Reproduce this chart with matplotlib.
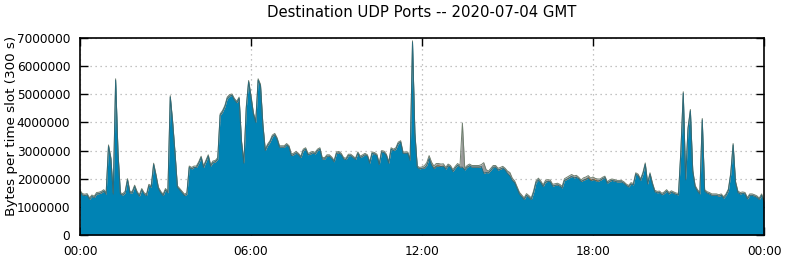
import numpy as np
import matplotlib
matplotlib.use("Agg")
import matplotlib.pyplot as plt
from matplotlib.ticker import FuncFormatter

# Bytes per 5-minute slot, in millions (289 slots: 00:00 .. 24:00)
main_port = [
    1.54, 1.42, 1.40, 1.42, 1.27, 1.37, 1.33, 1.46, 1.47, 1.50, 1.56, 1.45,
    3.15, 2.70, 1.45, 5.50, 2.90, 1.45, 1.42, 1.50, 1.95, 1.50, 1.50, 1.72,
    1.50, 1.38, 1.60, 1.45, 1.40, 1.75, 1.70, 2.50, 2.10, 1.65, 1.50, 1.40,
    1.60, 1.50, 4.90, 4.00, 2.90, 1.70, 1.60, 1.50, 1.40, 1.45, 2.40, 2.35,
    2.40, 2.40, 2.55, 2.75, 2.40, 2.60, 2.80, 2.45, 2.58, 2.60, 2.70, 4.25,
    4.37, 4.55, 4.85, 4.94, 4.96, 4.80, 4.70, 4.85, 3.30, 2.55, 4.50, 5.44,
    4.90, 4.30, 4.00, 5.50, 5.30, 3.90, 3.00, 3.18, 3.30, 3.50, 3.56, 3.40,
    3.12, 3.12, 3.12, 3.20, 3.12, 2.82, 2.86, 2.92, 2.85, 2.75, 3.00, 3.05,
    2.85, 2.88, 2.92, 2.88, 3.00, 3.05, 2.70, 2.70, 2.80, 2.80, 2.72, 2.60,
    2.90, 2.92, 2.85, 2.70, 2.68, 2.82, 2.82, 2.75, 2.68, 2.90, 2.75, 2.80,
    2.85, 2.80, 2.55, 2.90, 2.88, 2.82, 2.50, 2.95, 2.93, 2.82, 2.55, 3.05,
    3.00, 3.05, 3.25, 3.30, 2.90, 2.90, 2.90, 2.65, 6.85, 3.60, 2.40, 2.35,
    2.37, 2.38, 2.47, 2.72, 2.49, 2.36, 2.45, 2.45, 2.43, 2.45, 2.34, 2.46,
    2.41, 2.26, 2.38, 2.48, 2.41, 2.41, 2.31, 2.41, 2.46, 2.41, 2.41, 2.41,
    2.41, 2.43, 2.20, 2.22, 2.21, 2.31, 2.41, 2.41, 2.31, 2.34, 2.38, 2.31,
    2.19, 2.10, 1.94, 1.86, 1.66, 1.46, 1.36, 1.26, 1.41, 1.34, 1.26, 1.51,
    1.86, 1.96, 1.86, 1.72, 1.88, 1.91, 1.89, 1.74, 1.76, 1.78, 1.74, 1.67,
    1.94, 1.98, 2.03, 2.08, 2.03, 2.05, 2.00, 1.90, 1.95, 1.98, 2.03, 1.93,
    1.97, 1.93, 1.91, 1.94, 2.00, 2.04, 1.84, 1.91, 1.94, 1.92, 1.89, 1.89,
    1.89, 1.84, 1.76, 1.71, 1.81, 1.78, 2.16, 2.11, 1.94, 2.16, 2.51, 1.81,
    2.16, 1.81, 1.54, 1.50, 1.51, 1.43, 1.48, 1.56, 1.46, 1.52, 1.48, 1.44,
    1.43, 2.96, 5.04, 1.96, 3.76, 4.41, 2.26, 1.71, 1.56, 1.46, 4.09, 1.56,
    1.49, 1.46, 1.41, 1.41, 1.41, 1.38, 1.41, 1.31, 1.41, 1.58, 2.16, 3.20,
    1.86, 1.51, 1.46, 1.48, 1.46, 1.28, 1.41, 1.41, 1.38, 1.34, 1.26, 1.41,
    1.16,
]

second_port = [
    0.02, 0.02, 0.02, 0.02, 0.02, 0.02, 0.02, 0.02, 0.02, 0.02, 0.02, 0.02,
    0.02, 0.02, 0.02, 0.02, 0.02, 0.02, 0.02, 0.02, 0.02, 0.02, 0.02, 0.02,
    0.02, 0.02, 0.02, 0.02, 0.02, 0.02, 0.02, 0.02, 0.02, 0.02, 0.02, 0.02,
    0.02, 0.02, 0.02, 0.02, 0.02, 0.02, 0.02, 0.02, 0.02, 0.02, 0.02, 0.02,
    0.02, 0.02, 0.02, 0.02, 0.02, 0.02, 0.02, 0.02, 0.02, 0.02, 0.02, 0.02,
    0.02, 0.02, 0.02, 0.02, 0.02, 0.02, 0.02, 0.02, 0.02, 0.02, 0.02, 0.02,
    0.02, 0.02, 0.02, 0.02, 0.02, 0.02, 0.02, 0.02, 0.02, 0.02, 0.02, 0.02,
    0.02, 0.02, 0.02, 0.02, 0.02, 0.02, 0.02, 0.02, 0.02, 0.02, 0.02, 0.02,
    0.02, 0.02, 0.02, 0.02, 0.02, 0.02, 0.02, 0.02, 0.02, 0.02, 0.02, 0.02,
    0.02, 0.02, 0.02, 0.02, 0.02, 0.02, 0.02, 0.02, 0.02, 0.02, 0.02, 0.02,
    0.02, 0.02, 0.02, 0.02, 0.02, 0.02, 0.02, 0.02, 0.02, 0.02, 0.02, 0.02,
    0.02, 0.02, 0.02, 0.02, 0.02, 0.02, 0.02, 0.02, 0.02, 0.02, 0.02, 0.02,
    0.02, 0.02, 0.02, 0.02, 0.04, 0.05, 0.05, 0.05, 0.05, 0.04, 0.02, 0.02,
    0.02, 0.02, 0.02, 0.02, 0.02, 0.02, 0.02, 0.02, 0.02, 0.02, 0.02, 0.02,
    0.02, 0.02, 0.02, 0.02, 0.02, 0.02, 0.02, 0.02, 0.02, 0.02, 0.02, 0.02,
    0.02, 0.02, 0.02, 0.02, 0.02, 0.02, 0.02, 0.02, 0.02, 0.02, 0.02, 0.02,
    0.02, 0.02, 0.02, 0.02, 0.02, 0.02, 0.02, 0.02, 0.02, 0.02, 0.02, 0.02,
    0.02, 0.02, 0.02, 0.02, 0.02, 0.02, 0.02, 0.02, 0.05, 0.05, 0.05, 0.06,
    0.06, 0.05, 0.05, 0.02, 0.02, 0.02, 0.02, 0.02, 0.02, 0.02, 0.02, 0.02,
    0.02, 0.02, 0.02, 0.02, 0.02, 0.02, 0.02, 0.02, 0.02, 0.02, 0.02, 0.02,
    0.02, 0.02, 0.02, 0.02, 0.02, 0.02, 0.02, 0.02, 0.02, 0.02, 0.02, 0.02,
    0.02, 0.02, 0.02, 0.02, 0.02, 0.02, 0.02, 0.02, 0.02, 0.02, 0.02, 0.02,
    0.02, 0.02, 0.02, 0.02, 0.02, 0.02, 0.02, 0.02, 0.02, 0.02, 0.02, 0.02,
    0.02, 0.02, 0.02, 0.02, 0.02, 0.02, 0.02, 0.02, 0.02, 0.02, 0.02, 0.02,
    0.02,
]

other_ports = [
    0.03, 0.03, 0.03, 0.03, 0.03, 0.03, 0.03, 0.03, 0.03, 0.03, 0.03, 0.03,
    0.03, 0.03, 0.03, 0.03, 0.03, 0.03, 0.03, 0.03, 0.03, 0.03, 0.03, 0.03,
    0.03, 0.03, 0.03, 0.03, 0.03, 0.03, 0.03, 0.03, 0.03, 0.03, 0.03, 0.03,
    0.03, 0.03, 0.03, 0.03, 0.03, 0.03, 0.03, 0.03, 0.03, 0.03, 0.03, 0.03,
    0.03, 0.03, 0.03, 0.03, 0.03, 0.03, 0.03, 0.03, 0.03, 0.03, 0.03, 0.03,
    0.03, 0.03, 0.03, 0.03, 0.03, 0.03, 0.03, 0.03, 0.03, 0.03, 0.03, 0.03,
    0.03, 0.03, 0.03, 0.03, 0.03, 0.03, 0.03, 0.03, 0.03, 0.03, 0.03, 0.03,
    0.03, 0.03, 0.03, 0.03, 0.03, 0.03, 0.03, 0.03, 0.03, 0.03, 0.03, 0.03,
    0.03, 0.03, 0.03, 0.03, 0.03, 0.03, 0.03, 0.03, 0.03, 0.03, 0.03, 0.03,
    0.03, 0.03, 0.03, 0.03, 0.03, 0.03, 0.03, 0.03, 0.03, 0.03, 0.03, 0.03,
    0.03, 0.03, 0.03, 0.03, 0.03, 0.03, 0.03, 0.03, 0.03, 0.03, 0.03, 0.03,
    0.03, 0.03, 0.03, 0.03, 0.03, 0.03, 0.03, 0.03, 0.03, 0.03, 0.03, 0.03,
    0.03, 0.06, 0.08, 0.08, 0.06, 0.04, 0.04, 0.04, 0.04, 0.04, 0.04, 0.04,
    0.04, 0.04, 0.04, 0.04, 0.04, 1.55, 0.04, 0.04, 0.04, 0.04, 0.04, 0.04,
    0.04, 0.05, 0.35, 0.08, 0.04, 0.04, 0.04, 0.04, 0.04, 0.04, 0.04, 0.04,
    0.06, 0.10, 0.06, 0.04, 0.04, 0.04, 0.04, 0.04, 0.04, 0.04, 0.04, 0.04,
    0.04, 0.04, 0.04, 0.04, 0.04, 0.04, 0.04, 0.04, 0.04, 0.04, 0.04, 0.04,
    0.04, 0.05, 0.05, 0.05, 0.05, 0.05, 0.03, 0.03, 0.03, 0.03, 0.03, 0.03,
    0.03, 0.03, 0.03, 0.03, 0.03, 0.03, 0.03, 0.03, 0.03, 0.03, 0.03, 0.03,
    0.03, 0.03, 0.03, 0.03, 0.03, 0.03, 0.03, 0.03, 0.03, 0.03, 0.03, 0.03,
    0.03, 0.03, 0.03, 0.03, 0.03, 0.03, 0.03, 0.03, 0.03, 0.03, 0.03, 0.03,
    0.03, 0.03, 0.03, 0.03, 0.03, 0.03, 0.03, 0.03, 0.03, 0.03, 0.03, 0.03,
    0.03, 0.03, 0.03, 0.03, 0.03, 0.03, 0.03, 0.03, 0.03, 0.03, 0.03, 0.03,
    0.03, 0.03, 0.03, 0.03, 0.03, 0.03, 0.03, 0.03, 0.03, 0.03, 0.03, 0.03,
    0.03,
]

x_tick_hours = [0, 6, 12, 18, 24]
x_tick_labels = ["00:00", "06:00", "12:00", "18:00", "00:00"]
y_ticks = [0, 1000000, 2000000, 3000000, 4000000, 5000000, 6000000, 7000000]

title = "Destination UDP Ports -- 2020-07-04 GMT"
ylabel = "Bytes per time slot (300 s)"

plt.rcParams['font.family'] = ['DejaVu Sans']

scale = 1e6
a = np.array(main_port) * scale
b = np.array(second_port) * scale
c = np.array(other_ports) * scale
hours = np.arange(len(a)) * 5 / 60.0

fig = plt.figure(figsize=(7.86, 2.60), dpi=100)
ax = fig.add_axes([80 / 786, 25 / 260, 684 / 786, 197 / 260])

ax.fill_between(hours, 0, a, color='#0083b4', linewidth=0, zorder=2)
ax.fill_between(hours, a, a + b, color='#c8651b', linewidth=0, zorder=2)
ax.fill_between(hours, a + b, a + b + c, color='#9a9a9a', linewidth=0, zorder=2)
ax.plot(hours, a + b + c, color='#6f7f6f', linewidth=0.7, zorder=3)
ax.plot(hours, a, color='#2c6a7a', linewidth=0.7, zorder=3)

ax.set_xlim(0, 24)
ax.set_ylim(0, 7000000)
ax.set_xticks(x_tick_hours)
ax.set_xticklabels(x_tick_labels)
ax.set_yticks(y_ticks)
ax.yaxis.set_major_formatter(FuncFormatter(lambda v, p: "%d" % v))

ax.grid(True, color='#b0b0b0', linestyle=(0, (1, 3)), linewidth=0.9, zorder=1)
for g in ax.get_xgridlines() + ax.get_ygridlines():
    g.set_zorder(1.5)

ax.tick_params(direction='in', length=6, width=1, top=True, right=True,
               labelsize=8.7, colors='black', pad=7)
for s in ax.spines.values():
    s.set_linewidth(1.2)
    s.set_zorder(5)

ax.set_ylabel(ylabel, fontsize=9.7)
ax.yaxis.set_label_coords((18 - 80) / 684, (235 - 126) / 197)
fig.text(422 / 786, 1 - 12 / 260, title, ha='center', va='center', fontsize=10.7)

fig.savefig("out.png", dpi=100)
